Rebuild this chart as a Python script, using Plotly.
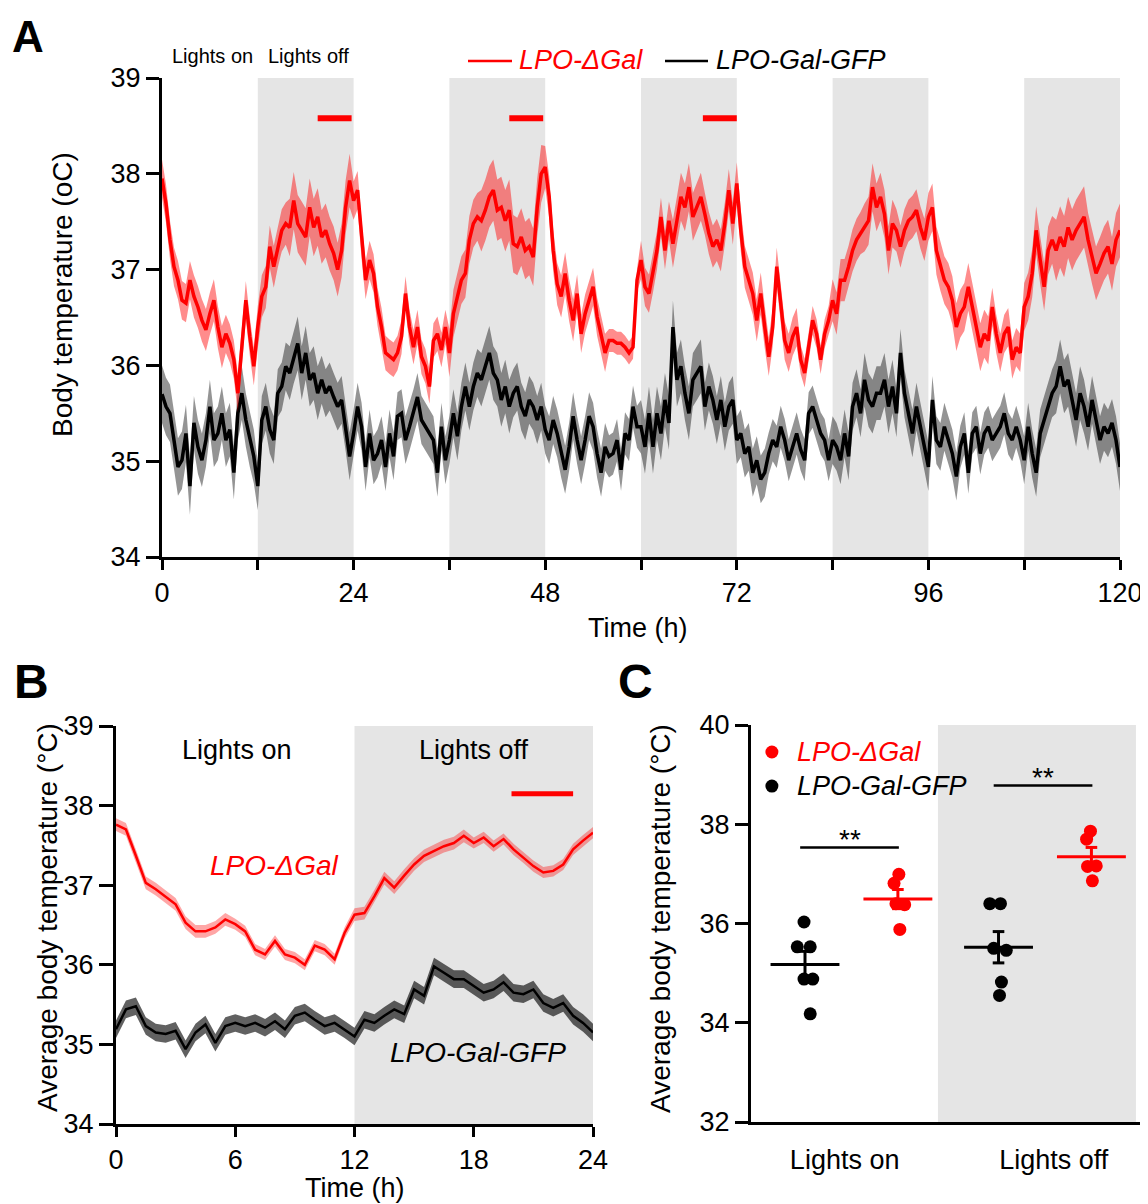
import plotly.graph_objects as go
import numpy as np

W, H = 1148, 1204
OFF = 8  # page body margin compensation
def px(x):
    return (x - OFF) / W
def py(y):
    return 1 - (y - OFF) / H

RED = "#ff0000"
BLACK = "#000000"
SHADE = "#e5e5e5"
FONT = "Liberation Sans, Arial, sans-serif"

# ---------------- Panel A data (0.5 h sampling) ----------------
hours_A = [i * 0.5 for i in range(241)]
red_A = [
    37.95, 37.69, 37.31, 37.03, 36.89, 36.68, 36.65, 36.89, 36.72, 36.61,
    36.47, 36.37, 36.54, 36.68, 36.40, 36.19, 36.33, 36.23, 36.06, 35.71,
    36.19, 36.68, 36.30, 35.99, 36.40, 36.72, 36.82, 37.24, 37.03, 37.24,
    37.41, 37.48, 37.44, 37.72, 37.48, 37.41, 37.34, 37.65, 37.44, 37.55,
    37.34, 37.41, 37.27, 37.17, 37.00, 37.20, 37.65, 37.93, 37.72, 37.83,
    37.31, 36.89, 37.10, 36.96, 36.61, 36.40, 36.13, 36.09, 36.06, 36.13,
    36.30, 36.75, 36.40, 36.19, 36.40, 36.09, 35.99, 35.78, 36.26, 36.33,
    36.16, 36.40, 36.13, 36.54, 36.72, 36.89, 36.96, 37.31, 37.48, 37.55,
    37.51, 37.62, 37.76, 37.83, 37.62, 37.65, 37.51, 37.62, 37.27, 37.24,
    37.34, 37.20, 37.24, 37.13, 37.65, 38.00, 38.07, 37.76, 37.20, 36.85,
    36.72, 36.96, 36.68, 36.47, 36.75, 36.33, 36.54, 36.68, 36.82, 36.51,
    36.33, 36.13, 36.26, 36.26, 36.23, 36.23, 36.19, 36.13, 36.19, 36.89,
    37.10, 36.82, 36.75, 36.96, 37.20, 37.55, 37.20, 37.51, 37.27, 37.51,
    37.76, 37.65, 37.86, 37.55, 37.65, 37.76, 37.58, 37.38, 37.24, 37.31,
    37.20, 37.48, 37.83, 37.48, 37.90, 37.41, 37.03, 36.89, 36.75, 36.47,
    36.75, 36.40, 36.09, 36.40, 37.03, 36.65, 36.26, 36.13, 36.30, 36.40,
    36.06, 35.92, 36.19, 36.47, 36.33, 36.06, 36.33, 36.47, 36.68, 36.54,
    36.89, 36.89, 37.03, 37.20, 37.31, 37.38, 37.44, 37.51, 37.86, 37.65,
    37.76, 37.58, 37.20, 37.48, 37.41, 37.24, 37.41, 37.51, 37.55, 37.62,
    37.44, 37.31, 37.55, 37.65, 37.20, 37.03, 36.89, 36.82, 36.68, 36.40,
    36.54, 36.61, 36.82, 36.61, 36.40, 36.19, 36.33, 36.26, 36.61, 36.33,
    36.13, 36.33, 36.40, 36.06, 36.19, 36.13, 36.61, 36.72, 36.96, 37.41,
    37.10, 36.82, 37.20, 37.31, 37.20, 37.34, 37.24, 37.44, 37.31, 37.41,
    37.48, 37.55, 37.31, 37.13, 36.96, 37.06, 37.17, 37.24, 37.06, 37.31,
    37.41,
]
black_A = [
    35.70, 35.57, 35.50, 35.22, 34.94, 35.01, 35.29, 34.74, 35.40, 35.15,
    35.01, 35.22, 35.57, 35.22, 35.29, 35.50, 35.22, 35.33, 34.88, 35.50,
    35.71, 35.43, 35.22, 35.05, 34.74, 35.43, 35.57, 35.33, 35.22, 35.71,
    35.78, 35.99, 35.92, 36.09, 36.23, 35.92, 36.13, 35.85, 35.92, 35.71,
    35.85, 35.71, 35.78, 35.67, 35.57, 35.64, 35.36, 35.05, 35.29, 35.57,
    35.36, 34.94, 35.29, 35.01, 35.08, 35.22, 34.94, 35.29, 35.05, 35.47,
    35.50, 35.22, 35.36, 35.50, 35.67, 35.43, 35.36, 35.29, 35.22, 34.88,
    35.36, 35.01, 35.22, 35.50, 35.26, 35.57, 35.78, 35.57, 35.78, 35.92,
    35.85, 35.99, 36.13, 35.92, 35.85, 35.64, 35.78, 35.57, 35.71, 35.78,
    35.57, 35.47, 35.64, 35.57, 35.43, 35.57, 35.33, 35.22, 35.43, 35.29,
    35.08, 34.91, 35.15, 35.47, 35.22, 35.01, 35.22, 35.47, 35.36, 35.08,
    34.88, 35.15, 35.05, 35.08, 35.22, 34.91, 35.29, 35.22, 35.57, 35.36,
    35.36, 35.15, 35.50, 35.15, 35.50, 35.29, 35.64, 35.40, 36.40, 35.85,
    35.99, 35.71, 35.50, 35.85, 35.92, 35.99, 35.57, 35.78, 35.64, 35.43,
    35.64, 35.36, 35.57, 35.64, 35.22, 35.29, 35.08, 35.15, 34.88, 35.01,
    34.81, 34.88, 35.08, 35.22, 35.15, 35.36, 35.22, 35.01, 35.15, 35.29,
    35.12, 35.01, 35.50, 35.57, 35.43, 35.29, 35.22, 35.01, 35.22, 35.15,
    35.01, 35.29, 35.05, 35.57, 35.71, 35.50, 35.85, 35.64, 35.57, 35.71,
    35.71, 35.85, 35.57, 35.78, 35.50, 36.13, 35.71, 35.50, 35.29, 35.57,
    35.36, 35.15, 34.94, 35.64, 35.22, 35.15, 35.36, 35.22, 35.08, 34.84,
    35.15, 35.29, 34.88, 35.29, 35.36, 35.08, 35.29, 35.36, 35.22, 35.29,
    35.36, 35.50, 35.29, 35.22, 35.36, 35.22, 35.01, 35.36, 35.08, 34.88,
    35.29, 35.43, 35.57, 35.71, 35.78, 35.99, 35.78, 35.85, 35.64, 35.43,
    35.71, 35.57, 35.36, 35.64, 35.43, 35.22, 35.36, 35.29, 35.40, 35.22,
    34.94,
]
# SEM read per 4-hour block
red_sem_A = [0.20, 0.22, 0.20, 0.22, 0.30, 0.28, 0.20, 0.18, 0.18, 0.25,
             0.32, 0.30, 0.22, 0.20, 0.12, 0.20, 0.25, 0.22, 0.22, 0.20,
             0.15, 0.22, 0.25, 0.22, 0.25, 0.25, 0.20, 0.25, 0.32, 0.28]
black_sem_A = [0.30, 0.28, 0.28, 0.25, 0.28, 0.25, 0.25, 0.25, 0.25, 0.25,
               0.28, 0.25, 0.25, 0.25, 0.22, 0.28, 0.28, 0.25, 0.25, 0.22,
               0.22, 0.25, 0.28, 0.25, 0.25, 0.22, 0.22, 0.25, 0.28, 0.25]
SEM_BLOCK_A = 4
dark_A = [(12, 24), (36, 48), (60, 72), (84, 96), (108, 120)]
sig_A = [(19.5, 23.75), (43.5, 47.75), (67.75, 72.0)]
sig_A_level = 38.58

# ---------------- Panel B data (0.5 h sampling) ----------------
hours_B = [i * 0.5 for i in range(49)]
red_B = [
    37.76, 37.70, 37.37, 37.03, 36.95, 36.86, 36.76, 36.53, 36.42, 36.42,
    36.47, 36.57, 36.51, 36.42, 36.19, 36.13, 36.30, 36.13, 36.09, 36.00,
    36.24, 36.19, 36.07, 36.40, 36.63, 36.65, 36.86, 37.09, 36.97, 37.12,
    37.26, 37.37, 37.43, 37.49, 37.53, 37.62, 37.53, 37.60, 37.49, 37.58,
    37.45, 37.35, 37.24, 37.16, 37.18, 37.26, 37.45, 37.56, 37.66,
]
black_B = [
    35.19, 35.44, 35.48, 35.23, 35.15, 35.13, 35.17, 34.94, 35.15, 35.25,
    35.02, 35.23, 35.27, 35.23, 35.27, 35.21, 35.29, 35.19, 35.36, 35.40,
    35.31, 35.23, 35.27, 35.19, 35.10, 35.31, 35.27, 35.36, 35.44, 35.38,
    35.69, 35.61, 35.98, 35.90, 35.82, 35.82, 35.73, 35.65, 35.69, 35.78,
    35.65, 35.63, 35.69, 35.52, 35.46, 35.52, 35.36, 35.27, 35.15,
]
red_sem_B = [0.08, 0.07, 0.08, 0.07]
black_sem_B = [0.11, 0.11, 0.11, 0.11]
SEM_BLOCK_B = 6
dark_B = [(12, 24)]
sig_B = [(19.9, 23.0)]
sig_B_level = 38.15

# ---------------- Panel C data ----------------
groups_C = ["Lights on", "Lights off"]
c_black = [[36.03, 35.53, 35.53, 34.88, 34.88, 34.18],
           [36.40, 36.40, 35.50, 35.46, 34.82, 34.55]]
c_red = [[36.99, 36.81, 36.40, 36.38, 35.88],
         [37.86, 37.70, 37.15, 37.16, 36.86]]
sig_C_level = [37.53, 38.78]

# point jitter (style, in category units)
jit_black = [[-0.005, -0.04, 0.027, -0.005, 0.04, 0.027],
             [-0.045, 0.01, -0.025, 0.04, 0.015, 0.005]]
jit_red = [[0.005, -0.02, -0.01, 0.035, 0.01],
           [-0.005, -0.025, -0.02, 0.025, 0.005]]
OFF_BLACK, OFF_RED = -0.24, 0.24

fig = go.Figure()


def sem_series(blocks, hours, block):
    return [blocks[min(int(h // block), len(blocks) - 1)] for h in hours]


def band(hours, vals, sems, fill, xa, ya):
    up = [v + s for v, s in zip(vals, sems)]
    lo = [v - s for v, s in zip(vals, sems)]
    fig.add_trace(go.Scatter(
        x=list(hours) + list(hours)[::-1], y=up + lo[::-1],
        fill="toself", fillcolor=fill, line=dict(width=0),
        mode="lines", hoverinfo="skip", xaxis=xa, yaxis=ya))


# Panel A traces
band(hours_A, black_A, sem_series(black_sem_A, hours_A, SEM_BLOCK_A), "rgba(0,0,0,0.42)", "x", "y")
fig.add_trace(go.Scatter(x=hours_A, y=black_A, mode="lines",
                         line=dict(color=BLACK, width=3.5), xaxis="x", yaxis="y"))
band(hours_A, red_A, sem_series(red_sem_A, hours_A, SEM_BLOCK_A), "rgba(255,0,0,0.45)", "x", "y")
fig.add_trace(go.Scatter(x=hours_A, y=red_A, mode="lines",
                         line=dict(color=RED, width=3.5), xaxis="x", yaxis="y"))
for a, b in sig_A:
    fig.add_trace(go.Scatter(x=[a, b], y=[sig_A_level, sig_A_level], mode="lines",
                             line=dict(color=RED, width=6), xaxis="x", yaxis="y"))

# Panel B traces
band(hours_B, black_B, sem_series(black_sem_B, hours_B, SEM_BLOCK_B), "rgba(0,0,0,0.62)", "x2", "y2")
fig.add_trace(go.Scatter(x=hours_B, y=black_B, mode="lines",
                         line=dict(color=BLACK, width=2.5), xaxis="x2", yaxis="y2"))
band(hours_B, red_B, sem_series(red_sem_B, hours_B, SEM_BLOCK_B), "rgba(255,0,0,0.35)", "x2", "y2")
fig.add_trace(go.Scatter(x=hours_B, y=red_B, mode="lines",
                         line=dict(color=RED, width=2.5), xaxis="x2", yaxis="y2"))
for a, b in sig_B:
    fig.add_trace(go.Scatter(x=[a, b], y=[sig_B_level, sig_B_level], mode="lines",
                             line=dict(color=RED, width=5), xaxis="x2", yaxis="y2"))

# Panel C traces
HALF_MEAN = 0.178
CAP = 0.03
for gi, g in enumerate(groups_C):
    for vals, jit, off, col in ((c_black[gi], jit_black[gi], OFF_BLACK, BLACK),
                                (c_red[gi], jit_red[gi], OFF_RED, RED)):
        c = gi + off
        arr = np.array(vals)
        m = float(arr.mean())
        s = float(arr.std(ddof=1) / np.sqrt(len(arr)))
        fig.add_trace(go.Scatter(x=[c + j for j in jit], y=vals, mode="markers",
                                 marker=dict(color=col, size=13, line=dict(width=0)),
                                 xaxis="x3", yaxis="y3"))
        fig.add_trace(go.Scatter(x=[c - HALF_MEAN, c + HALF_MEAN], y=[m, m], mode="lines",
                                 line=dict(color=col, width=3), xaxis="x3", yaxis="y3"))
        fig.add_trace(go.Scatter(
            x=[c, c, None, c - CAP, c + CAP, None, c - CAP, c + CAP],
            y=[m - s, m + s, None, m + s, m + s, None, m - s, m - s],
            mode="lines", line=dict(color=col, width=3), xaxis="x3", yaxis="y3"))
    lvl = sig_C_level[gi]
    fig.add_trace(go.Scatter(x=[gi - 0.265, gi + 0.245], y=[lvl, lvl], mode="lines",
                             line=dict(color=BLACK, width=2.5), xaxis="x3", yaxis="y3"))

# legend markers for C
fig.add_trace(go.Scatter(x=[-0.411], y=[39.456], mode="markers",
                         marker=dict(color=RED, size=13), xaxis="x3", yaxis="y3"))
fig.add_trace(go.Scatter(x=[-0.411], y=[38.77], mode="markers",
                         marker=dict(color=BLACK, size=13), xaxis="x3", yaxis="y3"))

# ---------------- shapes ----------------
shapes = []
for a, b in dark_A:
    shapes.append(dict(type="rect", xref="x", yref="y", x0=a, x1=b, y0=34, y1=39,
                       fillcolor=SHADE, line=dict(width=0), layer="below"))
for a, b in dark_B:
    shapes.append(dict(type="rect", xref="x2", yref="y2", x0=a, x1=b, y0=34, y1=39,
                       fillcolor=SHADE, line=dict(width=0), layer="below"))
shapes.append(dict(type="rect", xref="x3", yref="y3", x0=0.447, x1=1.47, y0=32, y1=40,
                   fillcolor=SHADE, line=dict(width=0), layer="below"))
# legend keys in A
shapes.append(dict(type="line", xref="paper", yref="paper", x0=px(468), x1=px(512),
                   y0=py(61), y1=py(61), line=dict(color=RED, width=2.5)))
shapes.append(dict(type="line", xref="paper", yref="paper", x0=px(665), x1=px(708),
                   y0=py(61), y1=py(61), line=dict(color=BLACK, width=2.5)))

# ---------------- annotations ----------------
ann = []
def text(t, x, y, size=27, color=BLACK, xanchor="center", angle=0, bold=False):
    ann.append(dict(text=("<b>%s</b>" % t) if bold else t, x=px(x), y=py(y),
                    xref="paper", yref="paper", showarrow=False, xanchor=xanchor,
                    yanchor="middle", textangle=angle,
                    font=dict(size=size, color=color, family=FONT)))

text("A", 28, 36, size=44, bold=True)
text("B", 31, 682, size=48, bold=True)
text("C", 636, 682, size=48, bold=True)
text("Lights on", 212, 56, size=20)
text("Lights off", 308, 56, size=20)
text("<i>LPO-ΔGal</i>", 517, 60, size=27, color=RED, xanchor="left")
text("<i>LPO-Gal-GFP</i>", 714, 60, size=27, xanchor="left")
text("Time (h)", 638, 628, size=27)
text("Body temperature (oC)", 62, 295, size=28, angle=-90)

text("Lights on", 237, 750, size=27)
text("Lights off", 474, 750, size=27)
text("<i>LPO-ΔGal</i>", 274, 865, size=28, color=RED)
text("<i>LPO-Gal-GFP</i>", 478, 1052, size=28)
text("Average body temperature (°C)", 47, 918, size=28, angle=-90)
text("Time (h)", 355, 1188, size=27)

text("Average body temperature (°C)", 660, 919, size=28, angle=-90)
text("<i>LPO-ΔGal</i>", 795, 752, size=27, color=RED, xanchor="left")
text("<i>LPO-Gal-GFP</i>", 795, 786, size=27, xanchor="left")

for gi in range(2):
    ann.append(dict(text="**", x=gi - 0.01, y=sig_C_level[gi], xref="x3", yref="y3",
                    showarrow=False, xanchor="center", yanchor="bottom", yshift=-9,
                    font=dict(size=28, color=BLACK, family=FONT)))

axis_common = dict(showline=True, linecolor=BLACK, linewidth=3, ticks="outside",
                   tickwidth=3, tickcolor=BLACK, showgrid=False, zeroline=False,
                   tickfont=dict(size=27, color=BLACK, family=FONT), fixedrange=True,
                   automargin=False)

tv_A = list(range(0, 121, 12))
fig.update_layout(
    width=W, height=H, margin=dict(l=0, r=0, t=0, b=0, autoexpand=False),
    plot_bgcolor="white", paper_bgcolor="white", showlegend=False,
    font=dict(family=FONT, color=BLACK),
    xaxis=dict(axis_common, domain=[px(162), px(1120)], range=[0, 120], anchor="y",
               tickvals=tv_A, ticktext=[str(v) if v % 24 == 0 else "" for v in tv_A],
               ticklen=10),
    yaxis=dict(axis_common, domain=[py(557), py(78)], range=[34, 39], anchor="x",
               tickvals=[34, 35, 36, 37, 38, 39], ticklen=13),
    xaxis2=dict(axis_common, domain=[px(116), px(593)], range=[0, 24], anchor="y2",
                tickvals=[0, 6, 12, 18, 24], ticklen=10),
    yaxis2=dict(axis_common, domain=[py(1124), py(726)], range=[34, 39], anchor="x2",
                tickvals=[34, 35, 36, 37, 38, 39], ticklen=14),
    xaxis3=dict(axis_common, domain=[px(751), px(1140)], range=[-0.519, 1.491], anchor="y3",
                tickvals=[-0.035, 1.045], ticktext=groups_C, ticklen=12,
                tickcolor="rgba(0,0,0,0)"),
    yaxis3=dict(axis_common, domain=[py(1122), py(725)], range=[32, 40], anchor="x3",
                tickvals=[32, 34, 36, 38, 40], ticklen=13),
    shapes=shapes, annotations=ann,
)

fig.write_html("out.html")
